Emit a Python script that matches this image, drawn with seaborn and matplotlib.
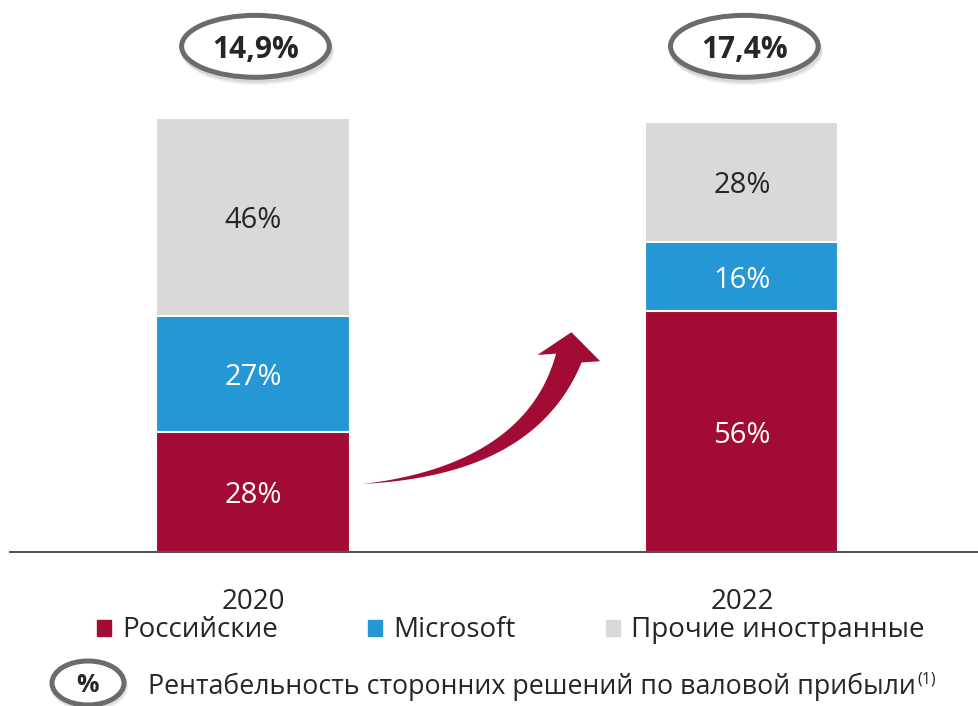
import numpy as np
import pandas as pd
import seaborn as sns
import matplotlib.pyplot as plt
from matplotlib.patches import Ellipse, Polygon, Rectangle
from matplotlib.transforms import IdentityTransform

years = ['2020', '2022']
russian = [28, 56]
microsoft = [27, 16]
other = [46, 28]
margins = ['14,9%', '17,4%']
series_names = ['Российские', 'Microsoft', 'Прочие иностранные']
note = 'Рентабельность сторонних решений по валовой прибыли'

RED = '#A20B33'
BLUE = '#2597D4'
GREY = '#D9D9D9'
DARK = '#262626'

sns.set_theme(style='white')
plt.rcParams['font.family'] = ['Open Sans', 'DejaVu Sans']

fig = plt.figure(figsize=(9.79, 7.06), dpi=100)
ax = fig.add_axes([10 / 979, 154 / 706, 969 / 979, 552 / 706])

df = pd.DataFrame({'year': years, 'r': russian, 'm': microsoft, 'o': other})
df['rm'] = df['r'] + df['m']
df['tot'] = df['rm'] + df['o']

# stacked look: draw cumulative totals from the top layer down
for col, c in [('tot', GREY), ('rm', BLUE), ('r', RED)]:
    sns.barplot(data=df, x='year', y=col, color=c, width=0.395, saturation=1,
                edgecolor='white', linewidth=1.5, ax=ax)

ax.set_xlim(-0.497, 1.485)
ax.set_ylim(0, 552 / 4.3)
ax.set_xlabel('')
ax.set_ylabel('')
ax.set_yticks([])
for s in ['top', 'right', 'left']:
    ax.spines[s].set_visible(False)
ax.spines['bottom'].set_color('#404040')
ax.spines['bottom'].set_linewidth(1.3)
ax.tick_params(axis='x', length=0, pad=26, labelsize=20, labelcolor=DARK)

# segment labels
for i in range(len(years)):
    ax.text(i, df['r'][i] / 2, f"{russian[i]}%", ha='center', va='center_baseline',
            fontsize=21, color='white')
    ax.text(i, df['r'][i] + df['m'][i] / 2, f"{microsoft[i]}%", ha='center', va='center_baseline',
            fontsize=21, color='white')
    ax.text(i, df['rm'][i] + df['o'][i] / 2, f"{other[i]}%", ha='center', va='center_baseline',
            fontsize=21, color=DARK)

# margin ovals above bars
for i in range(len(years)):
    cy = 117.6
    for k, a in [(6, 0.08), (4.5, 0.12), (3, 0.18)]:
        ax.add_patch(Ellipse((i + 0.004 + k * 0.001, cy - k * 0.22), 0.302, 14.4, facecolor='none',
                             edgecolor='#8a8a8a', lw=3.5, alpha=a, clip_on=False))
    ax.add_patch(Ellipse((i + 0.005, cy), 0.302, 14.4, facecolor='white', edgecolor='#6b6b6b',
                         lw=3.6, clip_on=False))
    ax.text(i + 0.005, cy, margins[i], ha='center', va='center_baseline', fontsize=21.5,
            fontweight='bold', color=DARK)

# curved growth arrow (built in display space)
def curved_arrow(p0, p1, p2, shaft_w, head_w, head_len, head_dir, color):
    T = ax.transData
    P0, P1, P2 = [np.array(T.transform(p)) for p in (p0, p1, p2)]
    t = np.linspace(0, 1, 80)[:, None]
    c = (1 - t) ** 2 * P0 + 2 * (1 - t) * t * P1 + t ** 2 * P2
    d = 2 * (1 - t) * (P1 - P0) + 2 * t * (P2 - P1)
    n = np.column_stack([-d[:, 1], d[:, 0]])
    n /= np.linalg.norm(n, axis=1)[:, None]
    w = shaft_w / 2 * t ** 1.1
    left = c + n * w
    right = c - n * w
    dirv = np.array(head_dir, dtype=float)
    dirv /= np.linalg.norm(dirv)
    perp = np.array([-dirv[1], dirv[0]])
    tip = P2 + dirv * head_len
    pts = np.vstack([left, P2 + perp * head_w / 2, tip, P2 - perp * head_w / 2, right[::-1]])
    ax.add_patch(Polygon(pts, closed=True, facecolor=color, edgecolor='none',
                         transform=IdentityTransform(), clip_on=False))

curved_arrow((0.223, 15.8), (0.567, 19.1), (0.646, 45.1), 27, 63, 26, (0.1, 1), RED)

# legend
handles = [Rectangle((0, 0), 1, 1, color=c) for c in (RED, BLUE, GREY)]
fig.legend(handles, series_names, loc='center', bbox_to_anchor=(0.522, 0.107), ncol=3,
           frameon=False, fontsize=20, handlelength=0.5, handleheight=0.5,
           handletextpad=0.4, columnspacing=3.25, labelcolor=DARK)

# footnote with oval
for k, a in [(4, 0.10), (2.5, 0.18)]:
    fig.patches.append(Ellipse(((88 + k * 0.4) / 979, (23 - k) / 706), 72 / 979, 44 / 706,
                               transform=fig.transFigure, facecolor='none',
                               edgecolor='#8a8a8a', lw=3.5, alpha=a))
fig.patches.append(Ellipse((88 / 979, 23 / 706), 72 / 979, 44 / 706, transform=fig.transFigure,
                           facecolor='white', edgecolor='#6b6b6b', lw=3.6))
fig.text(88 / 979, 23 / 706, '%', ha='center', va='center_baseline', fontsize=18,
         fontweight='bold', color=DARK)
nt = fig.text(148 / 979, 23 / 706, note, ha='left', va='center_baseline', fontsize=19.3, color=DARK)
ax.annotate('(1)', xy=(1.002, 1.02), xycoords=nt, ha='left', va='top', fontsize=11.5, color=DARK)

fig.savefig('out.png', dpi=100)
